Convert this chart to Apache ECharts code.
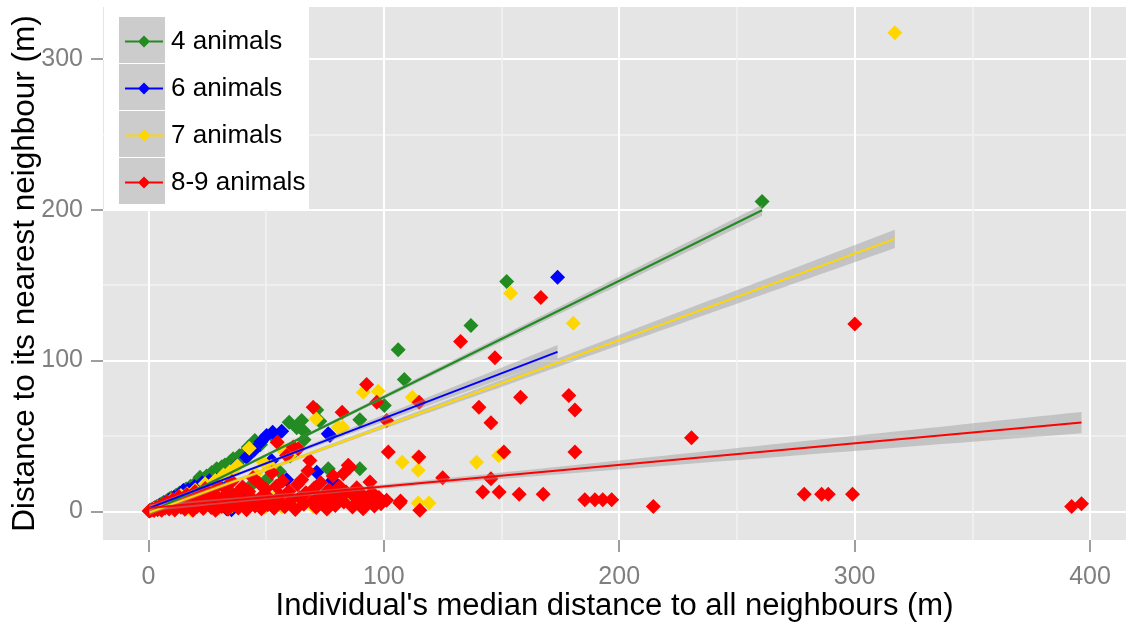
<!DOCTYPE html>
<html>
<head>
<meta charset="utf-8">
<script src="https://cdn.jsdelivr.net/npm/echarts@6.0.0/dist/echarts.min.js"></script>
<style>
  html, body { margin: 0; padding: 0; background: #ffffff; }
  #chart { width: 1126px; height: 627px; }
</style>
</head>
<body>
<div id="chart"></div>
<script>
// Group sizes shown in the legend and their colours
const groupNames = ['4 animals', '6 animals', '7 animals', '8-9 animals'];
const groupColors = ['#228B22', '#0000FF', '#FFD700', '#FF0000'];

// [median distance to all neighbours, distance to nearest neighbour] in metres
const group4 = [
  [0.5,0.6],[1.2,1.0],[2.0,1.8],[2.8,2.6],[3.5,3.2],[4.3,3.4],[5.0,4.6],[5.8,5.2],[6.5,6.1],[7.4,6.4],
  [8.2,7.6],[9.0,8.3],[9.8,9.1],[10.6,8.7],[11.5,10.4],[12.0,10.6],[13.2,12.1],[14.0,11.2],[15.1,13.8],[16.0,14.9],
  [16.8,12.9],[17.9,16.6],[18.7,15.8],[19.8,18.4],[20.6,17.1],[21.9,22.7],[22.8,19.6],[23.9,21.8],[24.7,23.5],[25.8,22.1],
  [26.9,25.7],[27.8,24.3],[29.0,28.3],[30.1,26.4],[31.2,29.6],[32.5,30.8],[33.4,28.2],[34.8,33.1],[36.0,34.9],[37.5,34.9],
  [38.6,36.8],[39.8,35.2],[41.0,39.4],[42.4,42.6],[44.1,40.3],[45.2,47.0],[47.6,44.2],[50.2,21.0],[53.5,49.2],[59.8,59.1],
  [63.0,55.4],[65.1,60.3],[66.1,53.2],[66.1,47.5],[71.5,67.3],[72.8,59.7],[76.4,28.3],[89.8,60.7],[89.8,28.3],[100.2,70.2],
  [106.1,107.1],[108.7,87.4],[137.0,123.2],[152.2,152.5],[260.7,205.5],
  [14.5,4.2],[22.3,9.5],[28.5,6.1],[35.2,12.4],[44.0,17.8],[55.6,26.4],[60.2,36.7]
];
const group6 = [
  [0.8,0.7],[2.5,2.1],[4.6,3.9],[6.9,5.4],[8.8,7.3],[10.9,9.2],[12.7,10.1],[14.8,13.9],[16.9,14.3],[19.6,16.4],
  [22.8,18.9],[25.9,20.3],[29.0,20.5],[31.8,21.6],[33.2,1.8],[35.3,1.1],[37.8,30.6],[41.7,35.8],[44.9,40.7],[47.8,46.1],
  [50.2,50.3],[52.8,52.5],[56.6,53.2],[52.3,33.8],[58.7,21.0],[71.5,26.0],[76.4,51.5],[77.1,50.3],[78.2,20.5],[77.8,16.1],
  [173.8,155.2],[18.3,3.6],[24.5,8.8],[39.5,12.7]
];
const group7 = [
  [0.4,0.3],[1.1,0.6],[2.2,1.4],[3.1,2.3],[4.2,2.9],[5.3,1.8],[6.4,4.6],[8.1,5.2],[9.7,7.4],[11.9,8.3],
  [13.8,10.5],[15.2,3.1],[16.4,11.6],[18.0,1.0],[19.9,14.2],[22.6,7.3],[24.1,18.3],[25.3,4.8],[26.2,16.1],[28.4,20.4],
  [30.1,2.2],[31.9,24.1],[34.6,26.3],[35.4,3.4],[37.8,30.2],[40.2,5.1],[42.8,41.9],[45.0,8.2],[45.6,24.8],[48.8,32.6],
  [49.5,2.8],[52.1,29.7],[52.4,4.3],[55.2,12.1],[56.6,3.0],[57.3,40.4],[60.1,37.2],[62.0,5.4],[63.0,3.3],[66.2,6.4],
  [70.1,3.1],[71.2,61.4],[73.4,8.3],[77.1,6.2],[79.2,6.2],[80.6,55.8],[82.5,55.8],[84.1,10.2],[91.3,79.0],[97.6,79.7],
  [107.8,32.6],[112.1,75.7],[114.6,36.0],[114.6,27.2],[114.6,5.5],[119.2,5.5],[139.4,32.6],[148.8,37.0],[153.9,144.6],[180.5,124.7],
  [317.1,317.4]
];
const group89 = [
  [0.3,0.2],[0.9,0.5],[1.6,1.2],[2.4,0.6],[3.2,2.4],[3.9,1.1],[4.8,3.6],[5.6,0.8],[6.3,4.9],[7.1,2.2],
  [7.9,6.3],[8.8,1.5],[9.5,3.8],[10.4,7.9],[11.2,0.9],[12.1,5.1],[12.9,9.8],[13.8,2.7],[14.6,6.9],[15.5,1.4],
  [16.3,11.2],[17.2,4.3],[18.1,8.1],[18.9,0.7],[19.8,13.1],[20.7,3.2],[21.5,6.4],[22.4,10.3],[23.3,1.9],[24.1,15.2],
  [25.0,5.6],[25.9,8.9],[26.7,2.5],[27.6,12.4],[28.5,0.8],[29.4,17.3],[30.2,6.1],[31.1,3.3],[32.0,9.7],[32.9,14.6],
  [33.8,1.4],[34.6,7.4],[35.5,19.8],[36.4,4.2],[37.3,11.6],[38.2,2.3],[39.1,8.5],[40.0,16.1],[40.8,5.3],[41.7,1.1],
  [42.6,13.2],[43.5,9.4],[44.4,22.3],[45.3,3.6],[46.2,6.8],[47.1,18.4],[48.0,1.7],[48.9,11.1],[49.8,14.9],[50.7,4.4],
  [51.6,8.2],[52.5,25.6],[53.4,2.1],[54.3,16.7],[54.7,45.9],[55.2,6.3],[56.1,10.5],[57.0,20.1],[57.9,3.1],[58.7,37.1],
  [59.7,13.3],[60.6,7.6],[61.5,42.6],[62.4,1.2],[63.3,17.8],[63.6,41.5],[64.2,9.1],[65.1,21.0],[66.0,4.7],[66.9,12.4],
  [67.8,26.9],[68.6,33.8],[69.5,6.5],[70.0,69.1],[70.4,15.3],[71.3,2.6],[72.2,9.8],[73.1,19.2],[74.0,5.1],[74.9,11.7],
  [75.8,1.6],[76.7,14.2],[77.6,7.9],[78.5,23.4],[79.4,3.8],[80.3,10.6],[81.2,16.5],[82.3,65.8],[82.8,25.0],[83.0,6.2],
  [84.0,12.8],[84.9,30.5],[85.6,29.3],[86.7,2.9],[87.6,9.5],[88.5,15.6],[89.4,5.4],[90.3,11.9],[91.2,1.8],[92.7,84.1],
  [93.0,7.3],[94.1,19.4],[95.0,12.5],[96.0,3.6],[97.0,72.4],[97.9,9.2],[98.8,5.1],[101.2,7.3],[101.9,39.3],[101.2,60.3],
  [106.8,5.5],[107.1,6.8],[114.9,36.0],[115.0,72.4],[115.3,0.7],[125.0,22.3],[132.6,112.6],[140.4,69.1],[142.0,12.8],[145.5,58.7],
  [145.5,21.7],[147.2,101.8],[149.0,12.8],[151.0,39.3],[157.5,11.3],[158.1,75.7],[166.7,141.9],[167.7,11.3],[178.6,76.8],[181.2,67.3],
  [181.2,39.3],[185.4,7.7],[189.7,7.7],[193.0,7.7],[196.8,7.7],[214.5,3.3],[230.7,48.8],[278.6,11.3],[286.0,11.3],[288.8,11.3],
  [299.1,11.3],[300.1,124.3],[392.2,3.3],[396.4,5.1]
];
const groupData = [group4, group6, group7, group89];

// Linear fit per group (intercept, slope) and its confidence band half-width
const fitIntercept = [-1.3, 2.0, -1.0, 2.2];
const fitSlope = [0.771, 0.597, 0.573, 0.143];
const bandBase = [1.0, 1.0, 1.2, 1.4];
const bandGrowth = [0.016, 0.033, 0.023, 0.022];

// Axis ticks
const xTicks = [0, 100, 200, 300, 400];
const xMinor = [50, 150, 250, 350];
const yTicks = [0, 100, 200, 300];
const yMinor = [50, 150, 250];

const FONT = 'Liberation Sans, Arial, sans-serif';
const GREY_TEXT = '#7F7F7F';
const X_RANGE = [-19.3, 415.3];
const Y_RANGE = [-19, 334.5];

// Straight segment across each group's x range
function fitLine(g) {
  const xs = groupData[g].map(p => p[0]);
  const x0 = Math.min(...xs), x1 = Math.max(...xs);
  return [[x0, fitIntercept[g] + fitSlope[g] * x0], [x1, fitIntercept[g] + fitSlope[g] * x1]];
}

// Closed polygon around the fit line (upper edge, then lower edge back)
function bandPolygon(g) {
  const xs = groupData[g].map(p => p[0]);
  const x0 = Math.min(...xs), x1 = Math.max(...xs);
  const xm = xs.reduce((a, b) => a + b, 0) / xs.length;
  const steps = 60;
  const upper = [], lower = [];
  for (let i = 0; i <= steps; i++) {
    const x = x0 + (x1 - x0) * i / steps;
    const y = fitIntercept[g] + fitSlope[g] * x;
    const h = Math.sqrt(bandBase[g] * bandBase[g] + Math.pow(bandGrowth[g] * (x - xm), 2));
    upper.push([x, y + h]);
    lower.push([x, y - h]);
  }
  return upper.concat(lower.reverse());
}

// Legend key: short line with a diamond in the middle
const keyIcon = 'path://M0,5L14,5L19,0L24,5L38,5L38,7L24,7L19,12L14,7L0,7Z';

const series = [];
groupNames.forEach((name, g) => {
  series.push({
    type: 'scatter',
    name: name,
    data: groupData[g],
    symbol: 'diamond',
    symbolSize: 15,
    itemStyle: { color: groupColors[g], opacity: 1 },
    z: 2,
    silent: true
  });
});
groupNames.forEach((name, g) => {
  const poly = bandPolygon(g);
  series.push({
    type: 'custom',
    name: name,
    data: [poly[0]],
    clip: true,
    z: 3,
    silent: true,
    renderItem: function (params, api) {
      return {
        type: 'polygon',
        shape: { points: poly.map(p => api.coord(p)) },
        style: { fill: 'rgba(153,153,153,0.45)' }
      };
    }
  });
  series.push({
    type: 'line',
    name: name,
    data: fitLine(g),
    symbol: 'none',
    showSymbol: false,
    lineStyle: { color: groupColors[g], width: 2 },
    itemStyle: { color: groupColors[g] },
    z: 4,
    silent: true
  });
});

const legendKeys = groupNames.map((n, i) => ({
  type: 'rect',
  shape: { x: 119, y: 17 + 47 * i, width: 46, height: 46 },
  style: { fill: '#CCCCCC' },
  z: 51,
  silent: true
}));

function minorAxis(range, values) {
  return {
    type: 'value', min: range[0], max: range[1], gridIndex: 0,
    axisLine: { show: false, onZero: false },
    axisTick: { show: false, customValues: values },
    axisLabel: { show: false },
    splitLine: { show: true, lineStyle: { color: '#F2F2F2', width: 1.5 } }
  };
}

const chart = echarts.init(document.getElementById('chart'), null, { renderer: 'canvas' });
chart.setOption({
  animation: false,
  backgroundColor: '#ffffff',
  textStyle: { fontFamily: FONT },
  grid: {
    left: 103, right: 0, top: 7, bottom: 87,
    containLabel: false, outerBoundsMode: 'none',
    show: true, backgroundColor: '#E5E5E5', borderWidth: 0
  },
  xAxis: [
    {
      type: 'value', min: X_RANGE[0], max: X_RANGE[1],
      name: "Individual's median distance to all neighbours (m)",
      nameLocation: 'middle', nameGap: 51, nameMoveOverlap: false,
      nameTextStyle: { fontSize: 31, color: '#000000', fontFamily: FONT },
      axisLine: { show: false, onZero: false },
      axisTick: { show: true, customValues: xTicks, length: 12, lineStyle: { color: GREY_TEXT, width: 1.5 } },
      axisLabel: { customValues: xTicks, fontSize: 25, color: GREY_TEXT, margin: 25, fontFamily: FONT },
      splitLine: { show: true, lineStyle: { color: '#FFFFFF', width: 2 } }
    },
    minorAxis(X_RANGE, xMinor)
  ],
  yAxis: [
    {
      type: 'value', min: Y_RANGE[0], max: Y_RANGE[1],
      name: 'Distance to its nearest neighbour (m)',
      nameLocation: 'middle', nameGap: 62, nameRotate: 90, nameMoveOverlap: false,
      nameTextStyle: { fontSize: 31.5, color: '#000000', fontFamily: FONT },
      axisLine: { show: false, onZero: false },
      axisTick: { show: true, customValues: yTicks, length: 12, lineStyle: { color: GREY_TEXT, width: 1.5 } },
      axisLabel: { customValues: yTicks, fontSize: 25, color: GREY_TEXT, margin: 20, fontFamily: FONT },
      splitLine: { show: true, lineStyle: { color: '#FFFFFF', width: 2 } }
    },
    minorAxis(Y_RANGE, yMinor)
  ],
  legend: {
    orient: 'vertical', left: 125, top: 18,
    itemWidth: 38, itemHeight: 12, itemGap: 0, padding: 0,
    selectedMode: false, z: 60,
    textStyle: { fontSize: 26, color: '#000000', lineHeight: 47, padding: [0, 0, 0, 3], fontFamily: FONT },
    data: groupNames.map(n => ({ name: n, icon: keyIcon }))
  },
  graphic: [
    { type: 'rect', shape: { x: 104, y: 0, width: 205, height: 209 }, style: { fill: '#FFFFFF' }, z: 50, silent: true }
  ].concat(legendKeys),
  series: series
});
</script>
</body>
</html>
